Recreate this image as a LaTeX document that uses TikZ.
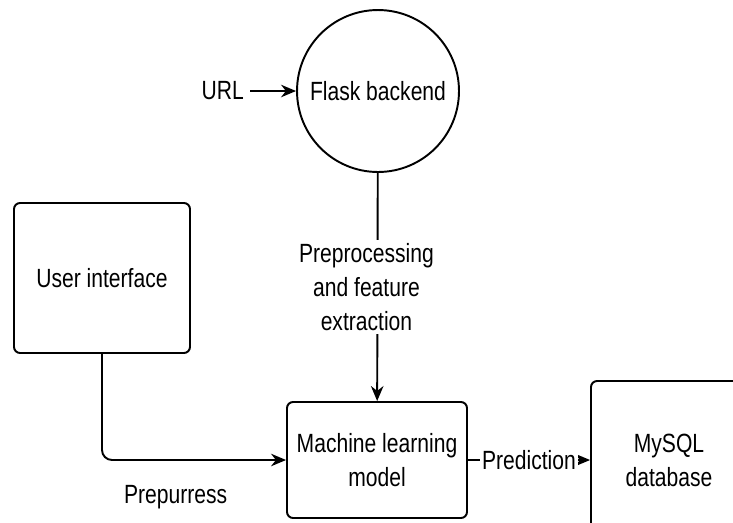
\documentclass[tikz,border=0pt]{standalone}
\usepackage{fontspec}
\setmainfont[FakeStretch=0.8]{Liberation Sans}
\usepackage{tikz}
\usetikzlibrary{arrows.meta,positioning,shapes.geometric}

\tikzset{
  block/.style={draw, rounded corners=0.12cm, line width=1.1pt, align=center, inner sep=0pt},
  flow/.style={->, line width=1.1pt}
}

\begin{document}
\begin{tikzpicture}[x=0.02cm, y=-0.02cm, every node/.style={font=\fontsize{15}{19.3}\selectfont},
  >={Stealth[length=0.3cm, width=0.25cm]}]
  \clip (0,0) rectangle (733,522);
  \fill[white] (0,0) rectangle (733,522);
  % server side
  \node[draw, circle, line width=1.1pt, minimum size=3.24cm, inner sep=0pt] (flask) at (378,91) {Flask backend};
  \node[left=0.92cm of flask] (url) {URL};
  % boxes
  \node[block, minimum width=3.52cm, minimum height=3.0cm] (ui) at (102,278) {User interface};
  \node[block, minimum width=3.6cm, minimum height=2.32cm] (ml) at (377,460) {Machine learning\\model};
  \node[block, minimum width=3.12cm, minimum height=3.16cm] (db) at (669,460) {MySQL\\database};
  % connectors
  \draw[flow] (url) -- (flask);
  \draw[flow] (flask) -- node[fill=white, align=center, xshift=-0.22cm, inner sep=2pt] (prep) {Preprocessing\\and feature\\extraction} (ml);
  \draw[flow, rounded corners=0.2cm] (ui.south) |- node[pos=0.7, below=0.38cm] (prepur) {Prepurress} (ml.west);
  \draw[flow] (ml) -- node[fill=white, inner sep=1pt] (pred) {Prediction} (db);
\end{tikzpicture}
\end{document}
